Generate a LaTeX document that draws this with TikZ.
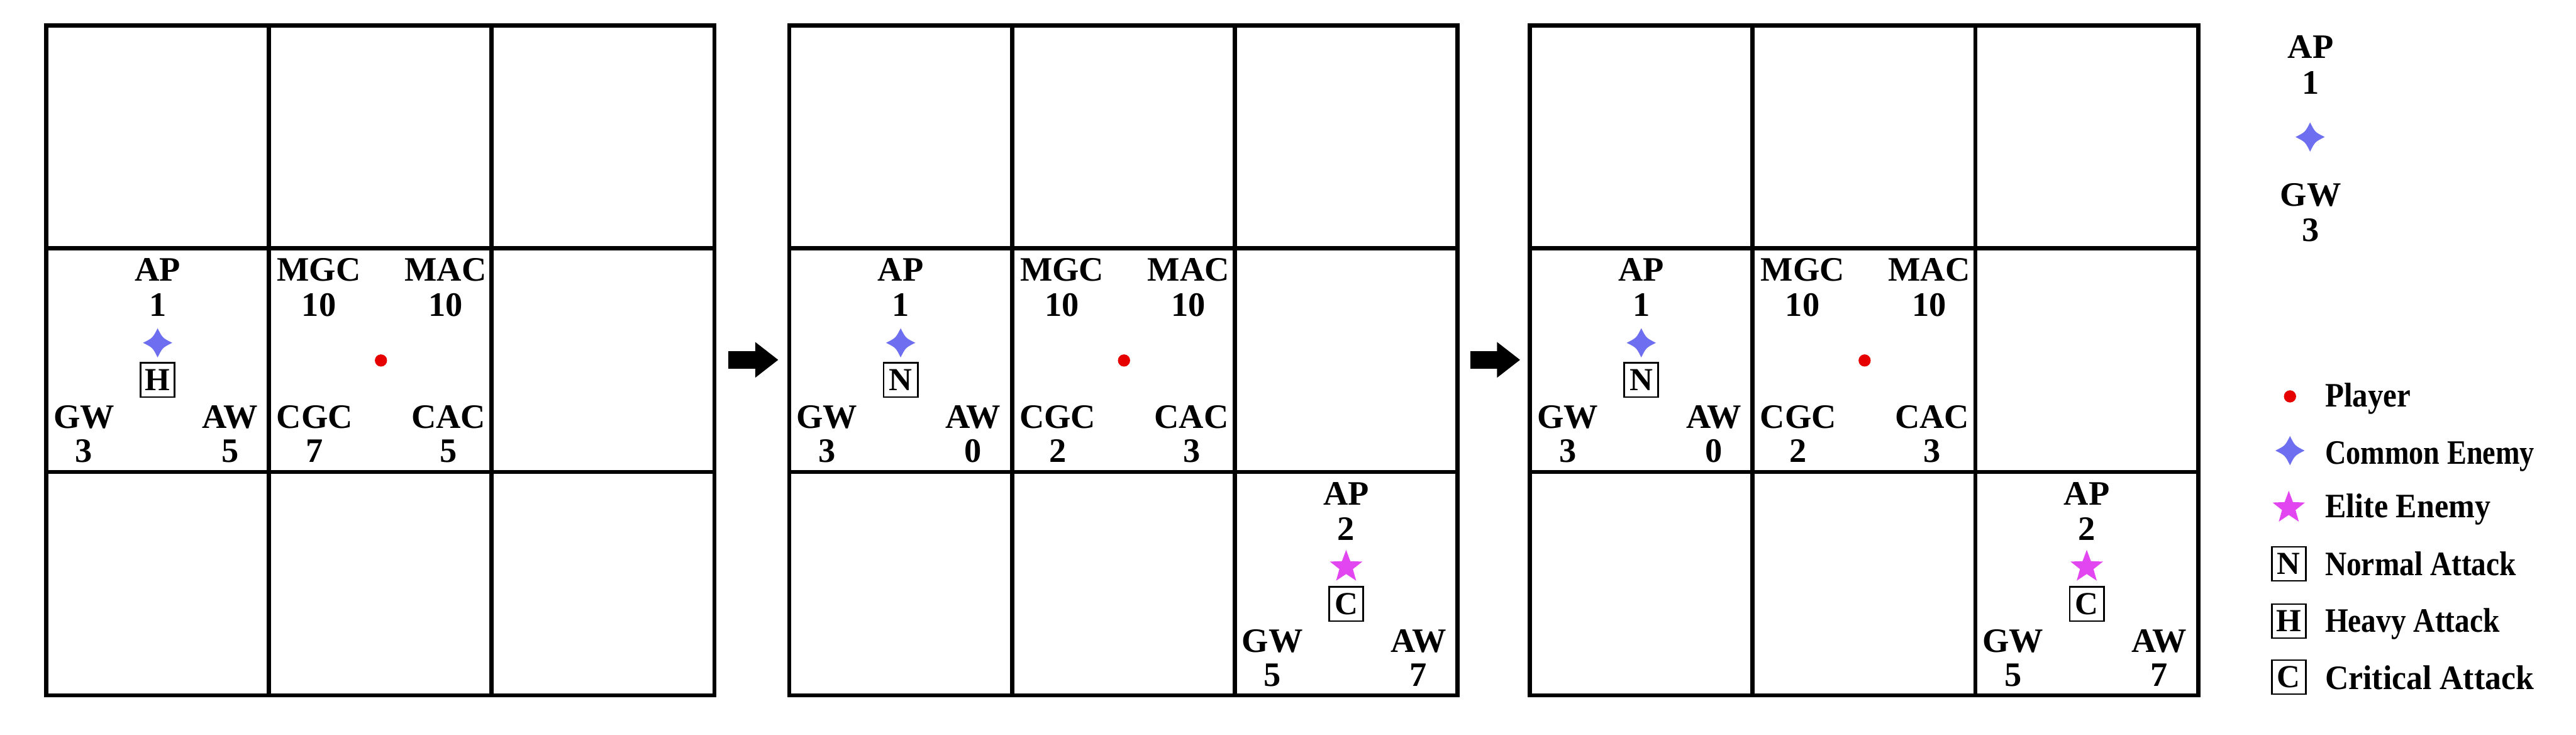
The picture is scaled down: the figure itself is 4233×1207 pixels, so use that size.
\documentclass[tikz,border=0pt]{standalone}
\usepackage{fontspec}
\setmainfont{LiberationSerif}[Extension=.ttf, UprightFont=*-Regular, BoldFont=*-Bold, ItalicFont=*-Italic, BoldItalicFont=*-BoldItalic]
\usetikzlibrary{shapes.geometric,arrows.meta}
\definecolor{commonblue}{RGB}{110,110,240}
\definecolor{elitemag}{RGB}{226,70,240}
\definecolor{playerred}{RGB}{230,0,0}
\tikzset{
  gridline/.style={line width=2pt, line join=miter},
  lbl/.style={anchor=base, inner sep=0pt, font=\fontsize{16}{16}\selectfont\bfseries},
  legtxt/.style={anchor=base west, inner sep=0pt, font=\fontsize{16}{16}\selectfont\bfseries},
  abox/.style={draw, line width=0.8pt, minimum size=0.56cm, inner sep=0pt, font=\fontsize{15}{15}\selectfont\bfseries},
  elitestar/.style={star, star points=5, star point ratio=2.4, fill=elitemag, draw=none, minimum size=0.56cm, inner sep=0pt},
  playerdot/.style={circle, fill=playerred, draw=none, minimum size=0.2cm, inner sep=0pt},
  cstar/.pic={\fill[commonblue] (0,-24) .. controls (8,-8) .. (24,0) .. controls (8,8) .. (0,24) .. controls (-8,8) .. (-24,0) .. controls (-8,-8) .. (0,-24) -- cycle;},
  bigarrow/.style={line width=0.29cm, -{Triangle[length=0.38cm, width=0.56cm]}}
}
% #1 prefix, #2 AP, #3 GW, #4 AW, #5 common/elite, #6 letter
\newcommand\enemycell[6]{%
  \node[lbl] (#1apl) at (183,54) {AP};
  \node[lbl] (#1apv) at (183,112) {#2};
  \ifx#5e\node[elitestar] (#1en) at (183,156) {};\else\pic at (183,156) {cstar};\fi
  \node[abox] (#1box) at (183,217) {#6};
  \node[lbl] (#1gwl) at (62,296) {GW};
  \node[lbl] (#1gwv) at (62,352) {#3};
  \node[lbl] (#1awl) at (302,296) {AW};
  \node[lbl] (#1awv) at (302,352) {#4};
}
% #1 prefix, #2 MGC, #3 MAC, #4 CGC, #5 CAC
\newcommand\playercell[5]{%
  \node[lbl] (#1mgcl) at (82,54) {MGC};
  \node[lbl] (#1mgcv) at (82,112) {#2};
  \node[lbl] (#1macl) at (290,54) {MAC};
  \node[lbl] (#1macv) at (290,112) {#3};
  \node[playerdot] (#1dot) at (184,185) {};
  \node[lbl] (#1cgcl) at (75,296) {CGC};
  \node[lbl] (#1cgcv) at (75,352) {#4};
  \node[lbl] (#1cacl) at (295,296) {CAC};
  \node[lbl] (#1cacv) at (295,352) {#5};
}
\newcommand\gamegrid{%
  \draw[gridline] (76,42) rectangle (1174,1142);
  \draw[gridline] (442,42) -- (442,1142) (808,42) -- (808,1142)
                  (76,408) -- (1174,408) (76,775) -- (1174,775);
}
\begin{document}
\begin{tikzpicture}[x=0.01cm,y=-0.01cm]
\useasboundingbox (0,0) rectangle (4233,1207);
% grid 1
\begin{scope}
  \gamegrid
  \begin{scope}[shift={(76,407)}]\enemycell{ga}{1}{3}{5}{c}{H}\end{scope}
  \begin{scope}[shift={(442,407)}]\playercell{gb}{10}{10}{7}{5}\end{scope}
\end{scope}
% grid 2
\begin{scope}[shift={(1221,0)}]
  \gamegrid
  \begin{scope}[shift={(76,407)}]\enemycell{ha}{1}{3}{0}{c}{N}\end{scope}
  \begin{scope}[shift={(442,407)}]\playercell{hb}{10}{10}{2}{3}\end{scope}
  \begin{scope}[shift={(808,775)}]\enemycell{hc}{2}{5}{7}{e}{C}\end{scope}
\end{scope}
% grid 3
\begin{scope}[shift={(2438,0)}]
  \gamegrid
  \begin{scope}[shift={(76,407)}]\enemycell{ia}{1}{3}{0}{c}{N}\end{scope}
  \begin{scope}[shift={(442,407)}]\playercell{ib}{10}{10}{2}{3}\end{scope}
  \begin{scope}[shift={(808,775)}]\enemycell{ic}{2}{5}{7}{e}{C}\end{scope}
\end{scope}
% arrows
\coordinate (a1s) at (1197,591);
\coordinate (a1e) at (1279,591);
\coordinate (a2s) at (2416,591);
\coordinate (a2e) at (2498,591);
\draw[bigarrow] (a1s) -- (a1e);
\draw[bigarrow] (a2s) -- (a2e);
% legend top
\node[lbl] (lapl) at (3797,96) {AP};
\node[lbl] (lapv) at (3797,154) {1};
\pic at (3796,225) {cstar};
\node[lbl] (lgwl) at (3797,338) {GW};
\node[lbl] (lgwv) at (3797,396) {3};
% legend list
\node[playerdot] (lpd) at (3763,651) {};
\node[legtxt] (lpt) at (3820,668) {\scalebox{0.9}[1]{Player}};
\pic at (3763,740) {cstar};
\node[legtxt] (lct) at (3820,762) {\scalebox{0.85}[1]{Common Enemy}};
\node[elitestar] (les) at (3761,834) {};
\node[legtxt] (let) at (3820,850) {\scalebox{0.92}[1]{Elite Enemy}};
\node[abox] (lnb) at (3761,926) {N};
\node[legtxt] (lnt) at (3820,945) {\scalebox{0.87}[1]{Normal Attack}};
\node[abox] (lhb) at (3761,1020) {H};
\node[legtxt] (lht) at (3820,1038) {\scalebox{0.87}[1]{Heavy Attack}};
\node[abox] (lcb) at (3761,1112) {C};
\node[legtxt] (lctt) at (3820,1132) {\scalebox{0.95}[1]{Critical Attack}};
\end{tikzpicture}
\end{document}
